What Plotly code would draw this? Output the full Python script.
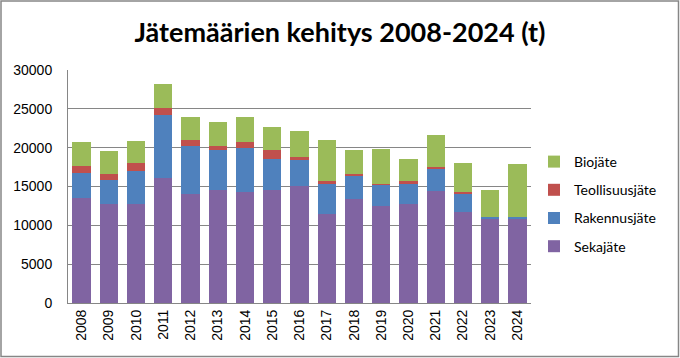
import plotly.graph_objects as go

years = [str(y) for y in range(2008, 2025)]
sekajate = [13500, 12700, 12800, 16150, 14000, 14600, 14350, 14600, 15080, 11500, 13400, 12450, 12700, 14430, 11770, 10830, 10780]
rakennusjate = [3200, 3200, 4200, 8000, 6200, 5100, 5630, 3900, 3390, 3870, 3050, 2840, 2660, 2800, 2320, 210, 260]
teollisuusjate = [950, 730, 1070, 950, 800, 470, 730, 1160, 300, 300, 170, 50, 300, 300, 260, 0, 0]
biojate = [3100, 2960, 2750, 3050, 2950, 3180, 3220, 3050, 3350, 5370, 3050, 4500, 2830, 4080, 3740, 3570, 6830]

series = [
    ("Sekajäte", sekajate, "#8064A2", 4),
    ("Rakennusjäte", rakennusjate, "#4F81BD", 3),
    ("Teollisuusjäte", teollisuusjate, "#C0504D", 2),
    ("Biojäte", biojate, "#9BBB59", 1),
]

fig = go.Figure()
for name, vals, col, rank in series:
    fig.add_trace(go.Bar(x=years, y=vals, name=name, marker=dict(color=col, line=dict(width=0)),
                         legendgroup=name, legendrank=rank))

W, H = 680, 358
L, R, T, B = 68, 149, 70, 55
pw, ph = W - L - R, H - T - B

fig.update_layout(
    width=W, height=H,
    barmode="stack", bargap=0.33,
    margin=dict(l=L, r=R, t=T, b=B, autoexpand=False),
    paper_bgcolor="white", plot_bgcolor="white",
    title=dict(text="<b>Jätemäärien kehitys 2008-2024 (t)</b>", x=0.5, xanchor="center",
               y=1 - 33 / H, yanchor="middle", yref="container",
               font=dict(family="Lato", size=27, color="black")),
    legend=dict(x=(534 - L) / pw, xanchor="left", y=(303 - 204) / ph, yanchor="middle",
                traceorder="grouped", tracegroupgap=7, itemwidth=30,
                font=dict(family="Lato", size=14, color="black")),
    xaxis=dict(type="category", tickangle=-90, showline=True, linecolor="#868686", linewidth=1,
               tickfont=dict(family="Liberation Sans", size=14, color="black"), ticks=""),
    yaxis=dict(range=[0, 30000], dtick=5000, tickformat="d", showgrid=True, gridcolor="#868686",
               gridwidth=1, showline=True, linecolor="#868686", linewidth=1, zeroline=False,
               ticks="", ticklabelstandoff=12,
               tickfont=dict(family="Liberation Sans", size=14, color="black")),
    shapes=[dict(type="rect", xref="paper", yref="paper",
                 x0=(1 - L) / pw, x1=(W - 1.5 - L) / pw,
                 y0=(H - B - (H - 1.5)) / ph, y1=(H - B - 1) / ph,
                 line=dict(color="#868686", width=1.5), fillcolor="rgba(0,0,0,0)")],
)

fig.write_html("out.html", config={"displayModeBar": False},
               post_script="document.body.style.margin='0';document.body.style.padding='0';")
